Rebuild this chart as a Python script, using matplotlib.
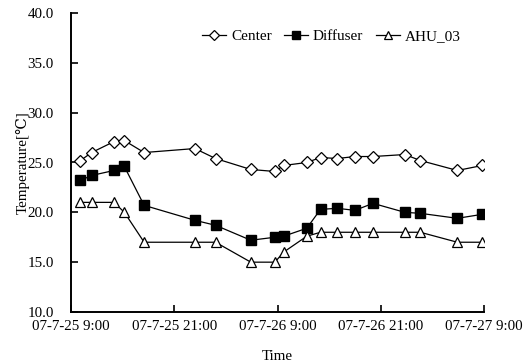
import matplotlib
matplotlib.use("Agg")
import matplotlib.pyplot as plt

# Hours elapsed since 07-7-25 9:00
hours = [1.1, 2.4, 5.0, 6.2, 8.5, 14.4, 16.8, 20.9, 23.7, 24.7,
         27.4, 29.0, 30.95, 33.0, 35.1, 38.8, 40.6, 44.9, 47.8]

center = [25.2, 26.0, 27.1, 27.2, 26.0, 26.4, 25.4, 24.3, 24.1, 24.7,
          25.0, 25.5, 25.4, 25.6, 25.6, 25.8, 25.2, 24.2, 24.7]
diffuser = [23.2, 23.7, 24.2, 24.6, 20.7, 19.2, 18.7, 17.2, 17.5, 17.6,
            18.4, 20.3, 20.4, 20.2, 20.9, 20.0, 19.9, 19.4, 19.8]
ahu_03 = [21.0, 21.0, 21.0, 20.0, 17.0, 17.0, 17.0, 15.0, 15.0, 16.0,
          17.6, 18.0, 18.0, 18.0, 18.0, 18.0, 18.0, 17.0, 17.0]

tick_hours = [0, 12, 24, 36, 48]
tick_labels = ["07-7-25 9:00", "07-7-25 21:00", "07-7-26 9:00",
               "07-7-26 21:00", "07-7-27 9:00"]
y_ticks = [10, 15, 20, 25, 30, 35, 40]

plt.rcParams["font.family"] = ["Liberation Serif", "DejaVu Serif"]
plt.rcParams["font.size"] = 10.8

fig = plt.figure(figsize=(5.26, 3.64), dpi=100)
ax = fig.add_axes([71 / 526, 1 - 312 / 364, 413 / 526, 299 / 364])

ax.plot(hours, center, color="black", lw=0.9, marker="D", ms=6.3,
        mfc="white", mec="black", mew=0.9, label="Center")
ax.plot(hours, diffuser, color="black", lw=0.9, marker="s", ms=7,
        mfc="black", mec="black", label="Diffuser")
ax.plot(hours, ahu_03, color="black", lw=0.9, marker="^", ms=7,
        mfc="white", mec="black", mew=0.9, label="AHU_03")

ax.set_xlim(0, 48)
ax.set_ylim(10, 40)
ax.set_xticks(tick_hours)
ax.set_xticklabels(tick_labels)
ax.set_yticks(y_ticks)
ax.set_yticklabels([f"{v:.1f}" for v in y_ticks])

ax.spines["top"].set_visible(False)
ax.spines["right"].set_visible(False)
ax.spines["left"].set_linewidth(1.4)
ax.spines["bottom"].set_linewidth(1.4)
ax.tick_params(direction="in", length=5, width=1.2)
ax.tick_params(axis="y", pad=12.5)
ax.tick_params(axis="x", pad=6)

ax.set_xlabel("Time", labelpad=12)
ax.set_ylabel("Temperature[℃]", labelpad=-2)

ax.legend(loc="center", bbox_to_anchor=(0.63, 0.923), ncol=3, frameon=False,
          fontsize=11, handlelength=1.6, handletextpad=0.3, columnspacing=0.8,
          markerscale=0.75)

fig.savefig("out.png", dpi=100)
